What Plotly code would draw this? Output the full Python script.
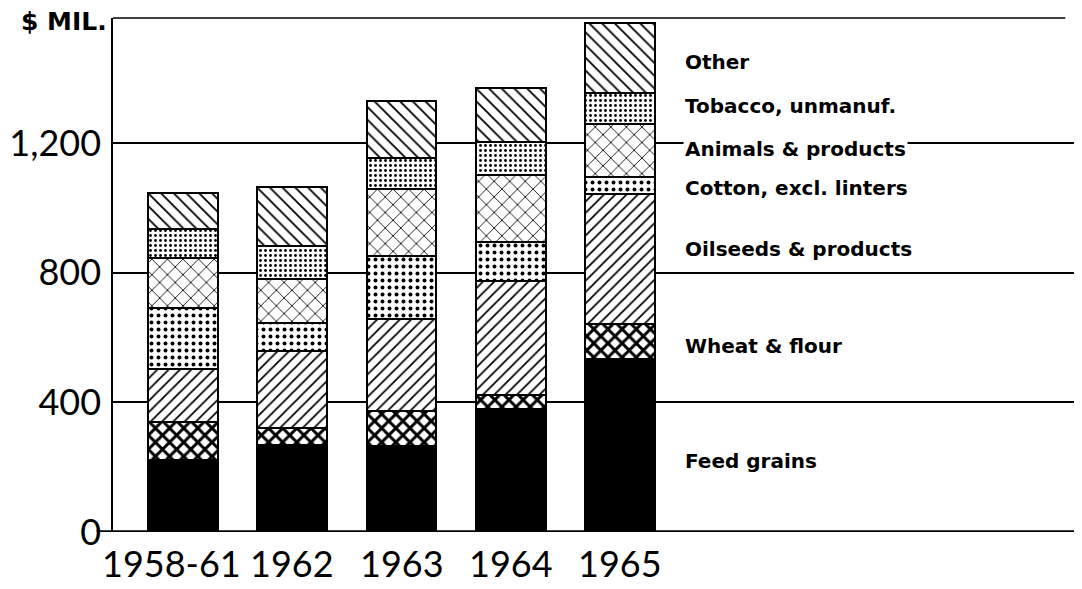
import plotly.graph_objects as go

categories = ["1958-61", "1962", "1963", "1964", "1965"]

# $ million (bottom to top of stack)
feed_grains = [223, 270, 264, 380, 534]
wheat_flour = [115, 51, 110, 44, 108]
oilseeds = [165, 236, 283, 351, 401]
cotton = [188, 88, 196, 121, 51]
animals = [154, 136, 206, 206, 165]
tobacco = [90, 100, 95, 101, 95]
other = [111, 183, 175, 167, 216]

series_names = ["Feed grains", "Wheat & flour", "Oilseeds & products",
                "Cotton, excl. linters", "Animals & products",
                "Tobacco, unmanuf.", "Other"]
series_values = [feed_grains, wheat_flour, oilseeds, cotton, animals, tobacco, other]

y_tickvals = [0, 400, 800, 1200]
y_ticktext = ["0", "400", "800", "1,200"]

# label positions (layout only)
label_y = [220, 575, 874, 1062, 1182, 1315, 1451]

patterns = [
    dict(shape="", solidity=1),
    dict(shape="x", size=10, solidity=0.5),
    dict(shape="/", size=8, solidity=0.22),
    dict(shape=".", size=7, solidity=0.25),
    dict(shape="x", size=11, solidity=0.15),
    dict(shape=".", size=5, solidity=0.25),
    dict(shape="\\", size=9, solidity=0.2),
]

fig = go.Figure()
for name, vals, pat in zip(series_names, series_values, patterns):
    color = "black" if name == "Feed grains" else "white"
    marker = dict(color=color, line=dict(color="black", width=2))
    if pat["shape"]:
        marker["pattern"] = dict(shape=pat["shape"], size=pat["size"],
                                 solidity=pat["solidity"], fgcolor="black",
                                 bgcolor="white", fillmode="replace")
    fig.add_trace(go.Bar(x=categories, y=vals, name=name, width=0.64,
                         marker=marker, showlegend=False))

FONT = "Lato"
LFONT = "DejaVu Sans"

annotations = []
for name, ly in zip(series_names, label_y):
    annotations.append(dict(x=0.592, xref="paper", y=ly, yref="y", text=name,
                            showarrow=False, xanchor="left", yanchor="middle",
                            font=dict(family=LFONT, size=20, color="black", weight="bold"),
                            bgcolor="white"))
for i, c in enumerate(categories):
    annotations.append(dict(x=i, xref="x", y=0, yref="y", text=c, showarrow=False,
                            xanchor="center", yanchor="top", yshift=-7,
                            xshift=-12 if i == 0 else 0,
                            font=dict(family=FONT, size=36, color="black")))
annotations.append(dict(x=0, xref="paper", y=1, yref="paper", text="$ MIL.",
                        showarrow=False, xanchor="right", yanchor="middle",
                        xshift=-4, yshift=-3,
                        font=dict(family=LFONT, size=25, color="black", weight="bold")))

fig.update_layout(
    barmode="stack",
    width=1074, height=581,
    margin=dict(l=105, r=7, t=10, b=57, autoexpand=False),
    paper_bgcolor="white", plot_bgcolor="white",
    annotations=annotations,
    shapes=[
        dict(type="line", xref="paper", yref="y", x0=-0.017, x1=1, y0=0, y1=0,
             line=dict(color="black", width=3.5)),
        dict(type="line", xref="paper", yref="paper", x0=0, x1=0.99, y0=1, y1=1,
             line=dict(color="black", width=1.5)),
    ],
    xaxis=dict(type="category", range=[-0.641, 8.165], showticklabels=False,
               showgrid=False, zeroline=False, showline=False, ticks="",
               automargin=False),
    yaxis=dict(range=[0, 1586], tickvals=y_tickvals, ticktext=y_ticktext,
               showgrid=True, gridcolor="black", gridwidth=1.5, zeroline=False,
               showline=True, linecolor="black", linewidth=1.5, ticks="",
               ticklabelstandoff=3, automargin=False,
               tickfont=dict(family=FONT, size=36, color="black")),
    bargap=0,
)

fig.write_html("out.html")
